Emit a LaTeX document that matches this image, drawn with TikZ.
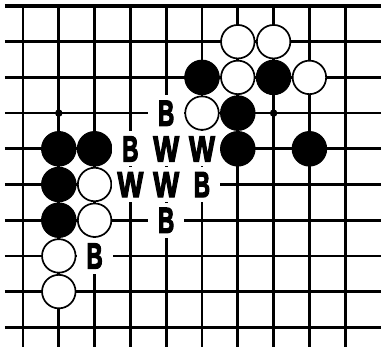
\documentclass[tikz,border=0pt]{standalone}
\usepackage{fontspec}
\newfontfamily\labfont{Liberation Sans}[FakeBold=4]
\newcommand{\lblB}{\scalebox{0.62}[1]{\labfont\bfseries\fontsize{36}{36}\selectfont B}}
\newcommand{\lblW}{\scalebox{0.76}[1]{\labfont\bfseries\fontsize{36}{36}\selectfont W}}
\begin{document}
\begin{tikzpicture}[x=35.8pt,y=-35.7pt,
  gridline/.style={line width=2.8pt},
  edgeline/.style={line width=3.6pt},
  bstone/.style={circle,fill=black,draw=black,line width=1pt,minimum size=34.5pt,inner sep=0pt},
  wstone/.style={circle,fill=white,draw=black,line width=1.7pt,minimum size=33.5pt,inner sep=0pt},
  hoshi/.style={circle,fill=black,minimum size=7.5pt,inner sep=0pt},
  lab/.style={fill=white,minimum width=36.2pt,minimum height=35.2pt,inner sep=0pt,text height=25pt,text depth=0pt}]
\useasboundingbox[fill=white] (-0.6425,-0.168) rectangle (10,9.552);
% grid
\foreach \j in {1,...,9} \draw[gridline] (-0.503,\j) -- (10,\j);
\foreach \i in {0,...,9} \draw[gridline] (\i,0) -- (\i,9.552);
\draw[edgeline] (-0.503,0) -- (10,0);
% hoshi
\node[hoshi] (h1) at (1,3) {};
\node[hoshi] (h2) at (7,3) {};
% stones
\node[wstone] (w61) at (6,1) {};
\node[wstone] (w71) at (7,1) {};
\node[bstone] (b52) at (5,2) {};
\node[wstone] (w62) at (6,2) {};
\node[bstone] (b72) at (7,2) {};
\node[wstone] (w82) at (8,2) {};
\node[wstone] (w53) at (5,3) {};
\node[bstone] (b63) at (6,3) {};
\node[bstone] (b14) at (1,4) {};
\node[bstone] (b24) at (2,4) {};
\node[bstone] (b64) at (6,4) {};
\node[bstone] (b84) at (8,4) {};
\node[bstone] (b15) at (1,5) {};
\node[wstone] (w25) at (2,5) {};
\node[bstone] (b16) at (1,6) {};
\node[wstone] (w26) at (2,6) {};
\node[wstone] (w17) at (1,7) {};
\node[wstone] (w18) at (1,8) {};
% labels
\node[lab] (l43) at (4,3) {\lblB};
\node[lab] (l34) at (3,4) {\lblB};
\node[lab] (l44) at (4,4) {\lblW};
\node[lab] (l54) at (5,4) {\lblW};
\node[lab] (l35) at (3,5) {\lblW};
\node[lab] (l45) at (4,5) {\lblW};
\node[lab] (l55) at (5,5) {\lblB};
\node[lab] (l46) at (4,6) {\lblB};
\node[lab] (l27) at (2,7) {\lblB};
\end{tikzpicture}
\end{document}
